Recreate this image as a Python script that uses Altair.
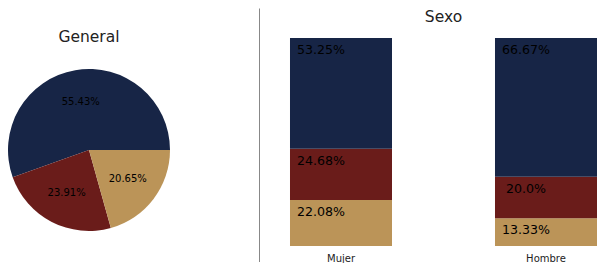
import altair as alt
import pandas as pd

# Data
categorias = ["Categoría 1", "Categoría 2", "Categoría 3"]   # navy, red, tan
orden_pie = [2, 1, 0]
general = [55.43, 23.91, 20.65]
grupos = ["Mujer", "Hombre"]
mujer = [53.25, 24.68, 22.08]
hombre = [66.67, 20.0, 13.33]
colores = ["#172546", "#6a1c1a", "#bb9458"]

FONT = "DejaVu Sans"
PI = 3.141592653589793

# ---------- pie ----------
pie_df = pd.DataFrame({
    "categoria": categorias,
    "valor": general,
    "orden": orden_pie,
    "etiqueta": [f"{v}%" for v in general],
})

color_scale = alt.Scale(domain=categorias, range=colores)
theta_scale = alt.Scale(range=[PI / 2, PI / 2 + 2 * PI])

base_pie = alt.Chart(pie_df).encode(
    theta=alt.Theta("valor:Q", stack=True, scale=theta_scale),
    order=alt.Order("orden:Q", sort="ascending"),
    x=alt.value(81),
    y=alt.value(142),
)
arcs = base_pie.mark_arc(radius=81).encode(
    color=alt.Color("categoria:N", scale=color_scale, legend=None)
)
pie_labels = base_pie.mark_text(radius=48.6, fontSize=10, font=FONT, color="#000000").encode(
    text="etiqueta:N"
)
pie_title = alt.Chart(pd.DataFrame({"t": ["General"]})).mark_text(
    fontSize=15.5, font=FONT, color="#222222", baseline="middle"
).encode(x=alt.value(81), y=alt.value(29), text="t:N")

pie = alt.layer(arcs, pie_labels, pie_title).properties(width=251, height=238)

# ---------- stacked bars ----------
rows = []
for g, vals in zip(grupos, [mujer, hombre]):
    # stacking bottom-to-top: tan, red, navy
    inicio = 0.0
    for idx in [2, 1, 0]:
        v = vals[idx]
        rows.append({
            "grupo": g,
            "categoria": categorias[idx],
            "valor": v,
            "inicio": inicio,
            "fin": inicio + v,
            "etiqueta": f"{v}%",
        })
        inicio += v
bar_df = pd.DataFrame(rows)

x_enc = alt.X(
    "grupo:N",
    sort=grupos,
    scale=alt.Scale(paddingInner=0.5024, paddingOuter=0.0756, align=1),
    axis=alt.Axis(title=None, labelAngle=0, ticks=False, domain=False,
                  labelFontSize=10, labelFont=FONT, labelColor="#222222",
                  labelPadding=7),
)
y_scale = alt.Scale(domain=[0, 114.42], nice=False, zero=True)

bars = alt.Chart(bar_df).mark_bar().encode(
    x=x_enc,
    y=alt.Y("inicio:Q", scale=y_scale, axis=None),
    y2="fin:Q",
    color=alt.Color("categoria:N", scale=color_scale, legend=None),
)
bar_labels = alt.Chart(bar_df).mark_text(
    align="center", baseline="middle", dx=-20, dy=12,
    fontSize=12.6, font=FONT, color="#000000"
).encode(
    x=x_enc,
    y=alt.Y("fin:Q", scale=y_scale, axis=None),
    text="etiqueta:N",
)
bar_title = alt.Chart(pd.DataFrame({"t": ["Sexo"]})).mark_text(
    fontSize=15.5, font=FONT, color="#222222", baseline="alphabetic"
).encode(x=alt.value(184.5), y=alt.value(13.5), text="t:N")

separator = alt.Chart(pd.DataFrame({"s": [0]})).mark_rule(
    color="#888888", strokeWidth=1
).encode(x=alt.value(0.5), y=alt.value(0.5), y2=alt.value(254))

bar_panel = alt.layer(separator, bars, bar_labels, bar_title).properties(width=338, height=238)

chart = alt.hconcat(pie, bar_panel, spacing=0).properties(
    padding=0
).configure(font=FONT).configure_view(stroke=None)

chart.save("out.html", embed_options={"renderer": "svg", "actions": False})
